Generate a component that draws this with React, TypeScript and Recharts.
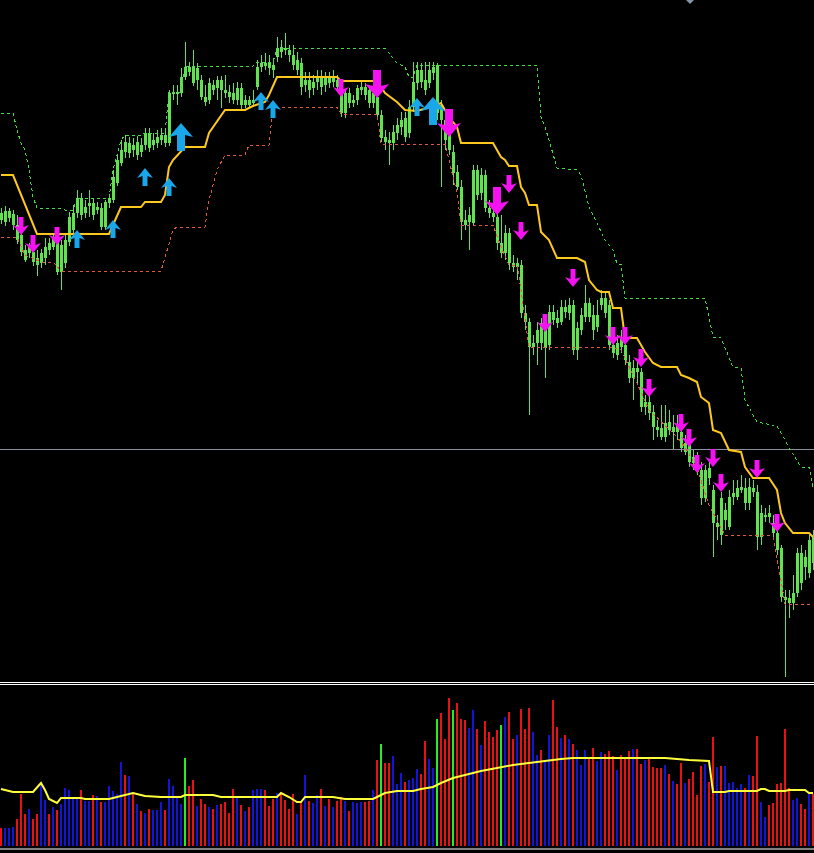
import React from 'react';
import { ComposedChart, Bar, Line, Scatter, XAxis, YAxis, ReferenceLine, Cell } from 'recharts';

// price bars (oldest -> newest)
const opens = [
  780, 789, 782, 786, 775, 765, 750, 747, 748, 742,
  737, 742, 750, 753, 760, 728, 737, 758, 770, 787,
  802, 793, 794, 797, 790, 792, 773, 797, 800, 817,
  837, 848, 857, 850, 858, 848, 855, 867, 860, 857,
  860, 865, 857, 906, 908, 907, 923, 933, 933, 920,
  920, 903, 900, 915, 912, 920, 910, 908, 907, 900,
  912, 900, 895, 897, 913, 933, 937, 932, 935, 943,
  948, 952, 950, 945, 940, 937, 915, 920, 912, 918,
  923, 915, 922, 918, 920, 907, 887, 897, 900, 900,
  910, 913, 910, 897, 903, 885, 863, 857, 857, 867,
  873, 882, 867, 893, 917, 930, 920, 917, 927, 935,
  895, 880, 865, 848, 828, 813, 780, 778, 777, 830,
  807, 825, 792, 787, 783, 757, 747, 767, 737, 733,
  735, 687, 678, 653, 657, 657, 677, 655, 688, 682,
  678, 688, 695, 695, 650, 670, 683, 697, 685, 673,
  695, 702, 695, 655, 645, 653, 655, 638, 622, 632,
  628, 593, 598, 588, 573, 563, 563, 578, 573, 568,
  568, 557, 555, 537, 542, 530, 502, 532, 510, 473,
  465, 490, 473, 503, 503, 510, 512, 497, 512, 508,
  463, 483, 487, 477, 467, 452, 403, 397, 397, 407,
  447, 433, 427, 463,
];
const highs = [
  792, 794, 792, 790, 785, 770, 755, 757, 752, 750,
  751, 762, 762, 767, 764, 760, 765, 788, 795, 810,
  807, 800, 810, 802, 798, 797, 800, 806, 830, 845,
  860, 865, 863, 862, 864, 862, 872, 872, 867, 870,
  872, 870, 910, 915, 915, 932, 958, 938, 950, 937,
  925, 915, 922, 920, 924, 924, 925, 915, 917, 918,
  917, 905, 904, 910, 940, 945, 947, 945, 940, 963,
  960, 967, 955, 955, 948, 942, 928, 928, 925, 930,
  930, 928, 928, 930, 925, 912, 910, 912, 905, 915,
  918, 917, 915, 912, 910, 890, 870, 868, 875, 882,
  888, 888, 900, 938, 938, 937, 938, 938, 938, 937,
  900, 885, 872, 855, 835, 820, 790, 793, 835, 835,
  832, 830, 800, 795, 788, 785, 775, 772, 745, 742,
  740, 695, 682, 665, 678, 682, 682, 695, 695, 690,
  700, 700, 702, 700, 678, 692, 715, 702, 695, 700,
  710, 707, 700, 662, 665, 670, 660, 645, 640, 640,
  632, 605, 605, 595, 580, 595, 595, 590, 585, 585,
  575, 565, 560, 550, 548, 538, 535, 540, 515, 485,
  508, 497, 510, 520, 520, 525, 522, 522, 520, 515,
  495, 492, 495, 485, 475, 455, 410, 410, 425, 452,
  455, 450, 465, 470,
];
const lows = [
  776, 774, 778, 770, 756, 744, 738, 742, 734, 724,
  732, 735, 745, 750, 725, 710, 732, 754, 765, 782,
  780, 782, 783, 780, 786, 770, 770, 792, 797, 814,
  834, 842, 842, 843, 840, 843, 850, 848, 850, 852,
  855, 853, 854, 900, 895, 903, 920, 924, 914, 910,
  900, 894, 896, 905, 900, 892, 902, 897, 896, 895,
  890, 892, 892, 893, 910, 928, 930, 925, 922, 938,
  942, 945, 938, 930, 925, 905, 908, 902, 905, 910,
  905, 908, 912, 913, 908, 883, 882, 892, 893, 895,
  905, 900, 892, 892, 880, 858, 850, 835, 850, 860,
  865, 858, 862, 888, 910, 912, 905, 912, 920, 880,
  813, 850, 845, 815, 810, 760, 770, 750, 774, 800,
  800, 788, 782, 778, 750, 742, 740, 730, 728, 720,
  682, 670, 585, 645, 635, 650, 622, 650, 675, 672,
  675, 682, 680, 645, 640, 665, 678, 678, 660, 668,
  690, 682, 650, 642, 640, 647, 635, 617, 600, 615,
  588, 585, 580, 560, 563, 560, 558, 565, 550, 560,
  548, 545, 533, 530, 525, 495, 498, 515, 443, 460,
  455, 470, 470, 495, 500, 507, 490, 490, 503, 450,
  455, 478, 477, 460, 445, 398, 323, 382, 390, 403,
  410, 420, 422, 430,
];
const closes = [
  787, 778, 789, 775, 760, 748, 740, 753, 738, 735,
  747, 753, 757, 762, 728, 755, 760, 783, 787, 802,
  785, 787, 797, 785, 793, 773, 798, 802, 823, 840,
  850, 858, 847, 855, 845, 855, 867, 852, 855, 863,
  865, 857, 907, 908, 906, 923, 933, 928, 917, 932,
  903, 898, 917, 910, 920, 910, 907, 903, 900, 912,
  895, 895, 900, 900, 933, 937, 934, 937, 930, 952,
  953, 950, 945, 935, 930, 913, 920, 910, 918, 923,
  913, 922, 917, 922, 913, 887, 907, 907, 897, 912,
  913, 905, 897, 907, 885, 862, 858, 860, 868, 875,
  880, 863, 893, 918, 930, 918, 910, 930, 933, 887,
  880, 860, 850, 827, 813, 778, 775, 785, 830, 805,
  825, 792, 787, 783, 757, 747, 767, 737, 733, 737,
  687, 678, 653, 657, 670, 677, 652, 688, 680, 677,
  693, 693, 687, 650, 672, 685, 697, 683, 670, 685,
  702, 687, 655, 647, 657, 663, 640, 622, 632, 628,
  593, 598, 587, 573, 570, 572, 577, 570, 568, 575,
  552, 548, 538, 543, 530, 502, 530, 522, 477, 477,
  502, 480, 503, 507, 512, 513, 497, 513, 508, 463,
  487, 485, 483, 467, 450, 403, 400, 402, 407, 447,
  417, 443, 460, 437,
];

// [bar, price] break points of the step lines
const trailPoints = [
  [0, 825], [3, 825], [9, 766], [27, 766], [30, 793], [35, 793], [36, 798], [40, 798],
  [41, 805], [42, 833], [43, 840], [46, 853], [51, 853], [52, 867], [56, 890], [61, 890],
  [63, 894], [66, 898], [67, 905], [69, 923], [84, 923], [85, 919], [94, 919], [96, 907],
  [99, 898], [101, 890], [104, 889], [109, 895], [110, 897], [112, 883], [114, 873], [115, 857],
  [123, 857], [125, 843], [126, 840], [127, 834], [129, 834], [130, 813], [131, 807], [132, 795],
  [134, 795], [135, 768], [137, 760], [139, 742], [144, 742], [146, 738], [147, 720], [149, 710],
  [150, 708], [152, 708], [153, 692], [155, 692], [156, 662], [159, 662], [161, 648], [163, 637],
  [165, 633], [169, 633], [170, 625], [172, 622], [174, 618], [175, 603], [177, 597], [178, 570],
  [180, 567], [182, 550], [185, 548], [186, 533], [188, 522], [192, 522], [194, 510], [195, 487],
  [196, 477], [198, 467], [202, 467], [203, 463],
];
const upperBand = [
  [0, 887], [3, 887], [4, 870], [5, 857], [6, 850], [7, 830], [8, 803], [9, 792],
  [15, 792], [16, 790], [18, 790], [19, 802], [27, 802], [28, 830], [29, 845], [30, 860],
  [31, 865], [35, 865], [36, 867], [41, 867], [42, 908], [45, 908], [46, 934], [63, 934],
  [64, 938], [68, 938], [69, 952], [96, 952], [97, 947], [99, 937], [101, 933], [102, 923],
  [103, 923], [104, 935], [134, 935], [135, 883], [136, 873], [137, 860], [139, 832], [144, 830],
  [145, 825], [147, 793], [149, 777], [151, 760], [153, 750], [154, 736], [155, 736], [156, 702],
  [176, 702], [177, 683], [178, 663], [180, 662], [183, 633], [185, 632], [186, 600], [189, 578],
  [194, 574], [196, 560], [197, 552], [200, 533], [202, 533], [203, 513],
];
const lowerBand = [
  [0, 763], [4, 763], [6, 745], [10, 738], [13, 738], [15, 729], [40, 729], [43, 770],
  [44, 773], [51, 773], [52, 800], [54, 830], [56, 845], [61, 845], [62, 855], [67, 855],
  [68, 893], [84, 893], [85, 886], [94, 886], [95, 856], [111, 856], [114, 807], [115, 775],
  [123, 775], [125, 753], [127, 735], [129, 735], [130, 710], [132, 653], [152, 653], [155, 650],
  [159, 617], [162, 590], [169, 563], [171, 553], [174, 532], [177, 495], [181, 465], [192, 465],
  [193, 463], [195, 420], [196, 396], [203, 396],
];
const levelLine = 551;

// [bar, tip price, big]
const upArrows = [
  [19, 770, 0], [28, 780, 0], [36, 832, 0], [42, 822, 0], [45, 877, 1],
  [65, 908, 0], [68, 900, 0], [104, 902, 0], [108, 903, 1],
];
const downArrows = [
  [5, 765, 0], [8, 747, 0], [14, 755, 0], [85, 903, 0], [94, 902, 1], [112, 863, 1],
  [124, 785, 1], [127, 807, 0], [130, 760, 0], [136, 668, 0], [143, 713, 0], [153, 655, 0],
  [156, 655, 0], [160, 633, 0], [162, 603, 0], [170, 568, 0], [172, 553, 0], [174, 527, 0],
  [178, 533, 0], [180, 508, 0], [189, 522, 0], [194, 468, 0],
];

// volume panel
const volumes = [
  18, 18, 18, 19, 27, 52, 32, 37, 27, 32,
  61, 46, 32, 39, 36, 42, 58, 56, 49, 47,
  56, 45, 45, 51, 50, 44, 44, 60, 55, 52,
  84, 71, 70, 53, 42, 35, 33, 37, 36, 36,
  44, 36, 67, 60, 49, 42, 88, 60, 66, 40,
  47, 42, 39, 37, 41, 42, 44, 33, 57, 48,
  41, 35, 39, 56, 57, 57, 56, 40, 47, 53,
  52, 46, 37, 52, 32, 44, 71, 45, 43, 51,
  57, 40, 47, 39, 45, 49, 45, 35, 44, 43,
  44, 44, 45, 56, 86, 102, 83, 83, 90, 62,
  73, 64, 66, 68, 77, 72, 105, 87, 78, 127,
  133, 107, 148, 136, 143, 127, 126, 118, 136, 117,
  101, 125, 114, 109, 116, 121, 129, 134, 107, 111,
  137, 117, 138, 114, 91, 96, 86, 111, 146, 119,
  108, 111, 107, 102, 96, 81, 96, 87, 98, 85,
  94, 92, 95, 90, 76, 91, 89, 95, 97, 97,
  82, 86, 88, 79, 78, 78, 81, 72, 65, 62,
  83, 63, 67, 74, 51, 80, 82, 64, 109, 79,
  80, 80, 63, 64, 58, 62, 58, 71, 70, 110,
  44, 29, 41, 43, 62, 63, 117, 58, 46, 48,
  42, 37, 52, 52,
];
// r = down volume, b = up volume, g = spike
const volumeKinds = (
  'rbbbrrrbrr' + 'bbrbrbbbbb' + 'rbbrbrbbbb' + 'brbrbrbrbb' + 'brbbbbgrrb' +
  'rrbrbrrrrb' + 'rbrbbbrrrb' + 'rrrrbrbrbb' + 'rbrbrrbrbb' + 'brrbrgrrbb' +
  'brbbbrrbbg' + 'rrrgrrrbbr' + 'brrrrgbrrb' + 'rrrbbrbbrr' + 'brbrbbbrrb' +
  'brrrbrrrbr' + 'rbrrrrbrbr' + 'rbrrrrbrrb' + 'rbbbbbrbrr' + 'bbrrrrrrbb' + 'rrbr'
).split('');
const volumeMa = [
  [0, 57], [3, 54], [8, 54], [10, 63], [11, 56], [12, 47], [14, 43], [15, 48],
  [20, 48], [21, 47], [27, 47], [30, 50], [33, 53], [36, 50], [40, 49], [45, 49],
  [46, 51], [53, 51], [55, 49], [69, 49], [70, 53], [72, 49], [74, 44], [75, 44],
  [76, 49], [83, 49], [86, 47], [93, 47], [94, 49], [96, 53], [99, 55], [103, 55],
  [105, 57], [108, 59], [110, 63], [113, 68], [116, 71], [120, 75], [124, 78], [128, 81],
  [132, 83], [136, 85], [140, 87], [143, 88], [166, 88], [169, 87], [172, 86], [177, 85],
  [178, 54], [181, 54], [182, 55], [189, 55], [190, 57], [191, 57], [192, 55], [196, 55],
  [197, 56], [201, 56], [202, 53], [203, 53],
];
const timeTicks = [8, 24, 40, 56, 72, 88, 104, 120, 136, 152, 168, 184, 200];

const KIND_COLORS: Record<string, string> = { r: '#e81212', b: '#1414d8', g: '#22ee22' };
const CANDLE = '#62e250';

const priceRows: any[] = opens.map((o, i) => ({
  i,
  open: o,
  high: highs[i],
  low: lows[i],
  close: closes[i],
  range: [lows[i], highs[i]],
  trail: null,
  upper: null,
  lower: null,
  up: null,
  upBig: 0,
  dn: null,
  dnBig: 0,
}));
trailPoints.forEach(([i, v]) => (priceRows[i].trail = v));
upperBand.forEach(([i, v]) => (priceRows[i].upper = v));
lowerBand.forEach(([i, v]) => (priceRows[i].lower = v));
upArrows.forEach(([i, v, big]) => { priceRows[i].up = v; priceRows[i].upBig = big; });
downArrows.forEach(([i, v, big]) => { priceRows[i].dn = v; priceRows[i].dnBig = big; });

const volumeRows: any[] = volumes.map((v, i) => ({ i, vol: v, kind: volumeKinds[i], ma: null }));
volumeMa.forEach(([i, v]) => (volumeRows[i].ma = v));

const Candle = (props: any) => {
  const { x, y, width, height, payload } = props;
  if (!payload || height == null || isNaN(y)) return <g />;
  const { open, close, high, low } = payload;
  const h = Math.abs(height);
  const top = Math.min(y, y + height);
  const k = h / (high - low || 1);
  const yOf = (v: number) => top + (high - v) * k;
  const bTop = yOf(Math.max(open, close));
  const bBot = yOf(Math.min(open, close));
  const cx = x + width / 2;
  return (
    <g>
      <line x1={cx} x2={cx} y1={top} y2={top + h} stroke={CANDLE} strokeWidth={1} />
      <rect x={x} y={bTop} width={width} height={Math.max(1, bBot - bTop)} fill={CANDLE} />
    </g>
  );
};

// tip at (cx, cy); up arrows grow downward from the tip, down arrows upward
const arrowShape = (key: string, bigKey: string, dir: 1 | -1, color: string) => (props: any) => {
  const { cx, cy, payload } = props;
  if (!payload || payload[key] == null || isNaN(cy)) return <g />;
  const big = payload[bigKey] === 1;
  const H = big ? 28 : 18;
  const hw = big ? 12 : 8;
  const hh = big ? 14 : 10;
  const sw = big ? 4 : 2.5;
  const pts = [
    [cx, cy],
    [cx + hw, cy + dir * hh],
    [cx + sw, cy + dir * (hh - 2)],
    [cx + sw, cy + dir * H],
    [cx - sw, cy + dir * H],
    [cx - sw, cy + dir * (hh - 2)],
    [cx - hw, cy + dir * hh],
  ];
  return <polygon points={pts.map((p) => p.join(',')).join(' ')} fill={color} />;
};

const App: React.FC = () => {
  return (
    <div style={{ position: 'fixed', left: 0, top: 0, width: 814, height: 853, background: '#000', overflow: 'hidden' }}>
      {/* Price panel */}
      <div style={{ position: 'absolute', left: -1, top: 0 }}>
        <ComposedChart width={816} height={681} data={priceRows} margin={{ top: 0, right: 0, bottom: 0, left: 0 }}>
          <XAxis dataKey="i" hide />
          <YAxis hide domain={[319, 1000]} allowDataOverflow />
          <ReferenceLine y={levelLine} stroke="#8c8f9e" strokeWidth={1} shapeRendering="crispEdges" />
          <Line dataKey="upper" type="linear" connectNulls dot={false} activeDot={false} stroke="#44dd44" strokeWidth={1} strokeDasharray="3 3" shapeRendering="crispEdges" isAnimationActive={false} />
          <Line dataKey="lower" type="linear" connectNulls dot={false} activeDot={false} stroke="#dd5a3a" strokeWidth={1} strokeDasharray="3 3" shapeRendering="crispEdges" isAnimationActive={false} />
          <Bar dataKey="range" barSize={3} shape={Candle} isAnimationActive={false} />
          <Line dataKey="trail" type="linear" connectNulls dot={false} activeDot={false} stroke="#ffc81e" strokeWidth={2} isAnimationActive={false} />
          <Scatter dataKey="up" shape={arrowShape('up', 'upBig', 1, '#1aa6ea')} isAnimationActive={false} />
          <Scatter dataKey="dn" shape={arrowShape('dn', 'dnBig', -1, '#f412f0')} isAnimationActive={false} />
        </ComposedChart>
      </div>

      {/* shift marker */}
      <svg style={{ position: 'absolute', left: 685, top: 0 }} width={10} height={6}>
        <polygon points="1,0 9,0 5,4" fill="#8494ab" />
      </svg>

      {/* panel separators */}
      <div style={{ position: 'absolute', left: 0, top: 682, width: 814, height: 1, background: '#fff' }} />
      <div style={{ position: 'absolute', left: 0, top: 684, width: 814, height: 1, background: '#fff' }} />

      {/* Volume panel */}
      <div style={{ position: 'absolute', left: -1, top: 686 }}>
        <ComposedChart width={816} height={167} data={volumeRows} margin={{ top: 0, right: 0, bottom: 0, left: 0 }}>
          <XAxis
            dataKey="i"
            height={4}
            ticks={timeTicks}
            interval={0}
            tick={false}
            tickSize={4}
            stroke="#fff"
            axisLine={{ stroke: '#fff' }}
            tickLine={{ stroke: '#fff' }}
          />
          <YAxis hide domain={[-3, 160]} allowDataOverflow />
          <Bar dataKey="vol" barSize={2} isAnimationActive={false}>
            {volumeRows.map((r, idx) => (
              <Cell key={`v-${idx}`} fill={KIND_COLORS[r.kind]} />
            ))}
          </Bar>
          <Line dataKey="ma" type="linear" connectNulls dot={false} activeDot={false} stroke="#ffff3c" strokeWidth={2} isAnimationActive={false} />
        </ComposedChart>
      </div>
    </div>
  );
};

export default App;
